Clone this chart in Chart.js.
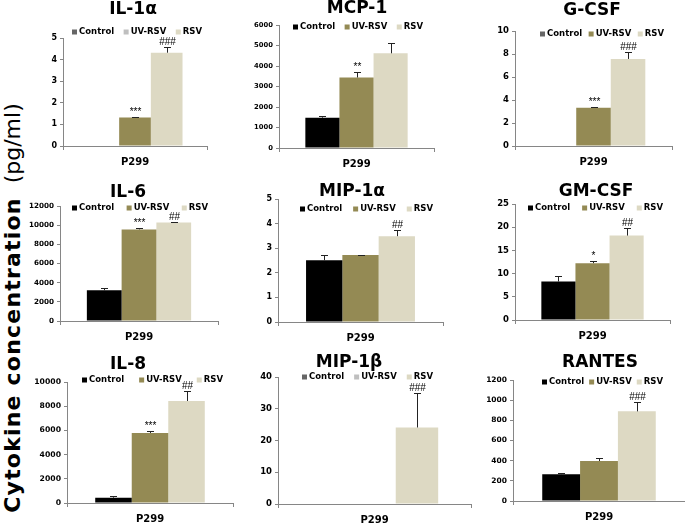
<!DOCTYPE html>
<html>
<head>
<meta charset="utf-8">
<script src="https://cdn.jsdelivr.net/npm/chart.js@4.4.1/dist/chart.umd.min.js"></script>
<style>
html, body { margin: 0; padding: 0; background: #fff; }
#wrap { position: relative; width: 685px; height: 525px; overflow: hidden; }
canvas { position: absolute; left: 0; top: 0; }
#ylab {
  position: absolute; left: 12px; top: 308px;
  transform: translate(-50%, -50%) rotate(-90deg);
  white-space: nowrap; font-family: 'DejaVu Sans'; font-size: 22px; color: #000;
}
#ylab b { letter-spacing: 1.2px; }
</style>
</head>
<body>
<div id="wrap"><div id="ylab"><b>Cytokine concentration</b>&nbsp; (pg/ml)</div></div>
<script>
// data
var cytokines = ['IL-1α', 'MCP-1', 'G-CSF', 'IL-6', 'MIP-1α', 'GM-CSF', 'IL-8', 'MIP-1β', 'RANTES'];
var category = ['P299'];
var groups = ['Control', 'UV-RSV', 'RSV'];
var controlValues = [null, 1480, null, 3200, 2.51, 8.3, 440, null, 265];
var controlErrors = [0, 100, 0, 250, 0.21, 1.1, 100, 0, 10];
var uvValues = [1.32, 3440, 3.33, 9560, 2.72, 12.25, 5790, null, 397];
var uvErrors = [0.03, 280, 0.05, 100, 0.02, 0.36, 130, 0, 25];
var rsvValues = [4.32, 4620, 7.57, 10290, 3.49, 18.2, 8430, 24.1, 889];
var rsvErrors = [0.26, 520, 0.63, 70, 0.26, 1.6, 800, 11, 90];
var uvMarks = ['***', '**', '***', '***', '', '*', '***', '', ''];
var rsvMarks = ['###', '', '###', '##', '##', '##', '##', '###', '###'];
var yMax = [5, 6000, 10, 12000, 5, 25, 10000, 40, 1200];
var yStep = [1, 1000, 2, 2000, 1, 5, 2000, 10, 200];

// where each little chart sits on the page (the panels were pasted at slightly different scales)
var frames = [
  { l: 63,  r: 207, t: 38,  b: 146, tx: 133, ty: 13.5, lg: [72, 202, 32],  tick: 8 },
  { l: 279, r: 434, t: 25,  b: 148, tx: 357, ty: 13,   lg: [293, 423, 27], tick: 6.8 },
  { l: 515, r: 672, t: 31,  b: 146, tx: 592, ty: 15,   lg: [540, 664, 34], tick: 8.5 },
  { l: 60,  r: 218, t: 206, b: 321, tx: 128, ty: 197,  lg: [72, 208, 208], tick: 7.2 },
  { l: 278, r: 443, t: 199, b: 322, tx: 352, ty: 196,  lg: [300, 433, 209], tick: 8 },
  { l: 515, r: 670, t: 204, b: 320, tx: 596, ty: 196,  lg: [528, 663, 208], tick: 8.5 },
  { l: 67,  r: 233, t: 382, b: 503, tx: 128, ty: 369,  lg: [82, 223, 380], tick: 7.7 },
  { l: 278, r: 471, t: 377, b: 504, tx: 349, ty: 367,  lg: [302, 433, 377], tick: 8.5 },
  { l: 513, r: 685, t: 380, b: 501, tx: 600, ty: 367,  lg: [542, 663, 382], tick: 7.5 }
];

var barColors = ['#000000', '#948a54', '#ddd9c3'];
var greyLegend = ['#666666', '#bfbfbf', '#ddd9c3'];
var legendColors = [
  greyLegend, barColors, ['#666666', '#948a54', '#ddd9c3'],
  barColors, barColors, barColors,
  barColors, greyLegend, barColors
];

Chart.defaults.font.family = 'DejaVu Sans';
Chart.defaults.color = '#000';

var decor = {
  id: 'decor',
  afterDatasetsDraw: function (chart, args, o) {
    var ctx = chart.ctx, ys = chart.scales.y;
    ctx.save();
    // error bars + significance marks
    chart.data.datasets.forEach(function (ds, i) {
      var v = ds.data[0];
      if (v == null) return;
      var bar = chart.getDatasetMeta(i).data[0];
      var x = Math.round(bar.x) + 0.5;
      var top = Math.round(ys.getPixelForValue(v + ds.errors[0])) + 0.5;
      ctx.strokeStyle = '#222';
      ctx.lineWidth = 1;
      ctx.beginPath();
      ctx.moveTo(x, bar.y);
      ctx.lineTo(x, top);
      ctx.moveTo(x - 3.5, top);
      ctx.lineTo(x + 3.5, top);
      ctx.stroke();
      if (ds.mark) {
        ctx.font = '10px "Liberation Sans"';
        ctx.fillStyle = '#000';
        ctx.textAlign = 'center';
        ctx.textBaseline = 'alphabetic';
        ctx.fillText(ds.mark, x, top - 3);
      }
    });
    // title
    ctx.font = 'bold 17px "DejaVu Sans"';
    ctx.fillStyle = '#000';
    ctx.textAlign = 'center';
    ctx.textBaseline = 'alphabetic';
    ctx.fillText(o.title, o.tx, o.ty);
    // legend, spread between lg[0] and lg[1]
    ctx.font = 'bold 8.5px "DejaVu Sans"';
    ctx.textAlign = 'left';
    ctx.textBaseline = 'middle';
    var widths = chart.data.datasets.map(function (ds) { return 7 + ctx.measureText(ds.label).width; });
    var total = widths.reduce(function (a, b) { return a + b; }, 0);
    var gap = (o.lg[1] - o.lg[0] - total) / (widths.length - 1);
    var x0 = o.lg[0];
    chart.data.datasets.forEach(function (ds, i) {
      ctx.fillStyle = o.colors[i];
      ctx.fillRect(x0, o.lg[2] - 2.5, 5, 5);
      ctx.fillStyle = '#000';
      ctx.fillText(ds.label, x0 + 7, o.lg[2]);
      x0 += widths[i] + gap;
    });
    ctx.restore();
  }
};

var wrap = document.getElementById('wrap');
cytokines.forEach(function (name, k) {
  var f = frames[k];
  var cv = document.createElement('canvas');
  cv.width = 685;
  cv.height = 525;
  wrap.appendChild(cv);

  var vals = [controlValues, uvValues, rsvValues];
  var errs = [controlErrors, uvErrors, rsvErrors];
  var marks = ['', uvMarks[k], rsvMarks[k]];

  new Chart(cv.getContext('2d'), {
    type: 'bar',
    data: {
      labels: category,
      datasets: groups.map(function (g, i) {
        return {
          label: g,
          data: [vals[i][k]],
          errors: [errs[i][k]],
          mark: marks[i],
          backgroundColor: barColors[i],
          borderWidth: 0
        };
      })
    },
    options: {
      responsive: false,
      animation: false,
      events: [],
      layout: { padding: { left: f.l - 40, top: f.t, right: 685 - f.r, bottom: 525 - f.b - 20 } },
      datasets: { bar: { categoryPercentage: 0.66, barPercentage: 1 } },
      plugins: {
        legend: { display: false },
        tooltip: { enabled: false },
        decor: { title: name, tx: f.tx, ty: f.ty, lg: f.lg, colors: legendColors[k] }
      },
      scales: {
        x: {
          grid: { drawOnChartArea: false, offset: true, tickLength: 4, color: '#868686' },
          border: { color: '#868686' },
          ticks: { font: { size: 10, weight: 'bold' }, padding: 6 },
          afterFit: function (s) { s.height = 20; }
        },
        y: {
          min: 0,
          max: yMax[k],
          ticks: {
            stepSize: yStep[k],
            font: { size: f.tick, weight: 'bold' },
            padding: 3,
            callback: function (v) { return String(v); }
          },
          grid: { drawOnChartArea: false, tickLength: 3, color: '#868686' },
          border: { color: '#868686' },
          afterFit: function (s) { s.width = 40; }
        }
      }
    },
    plugins: [decor]
  });
});
</script>
</body>
</html>
